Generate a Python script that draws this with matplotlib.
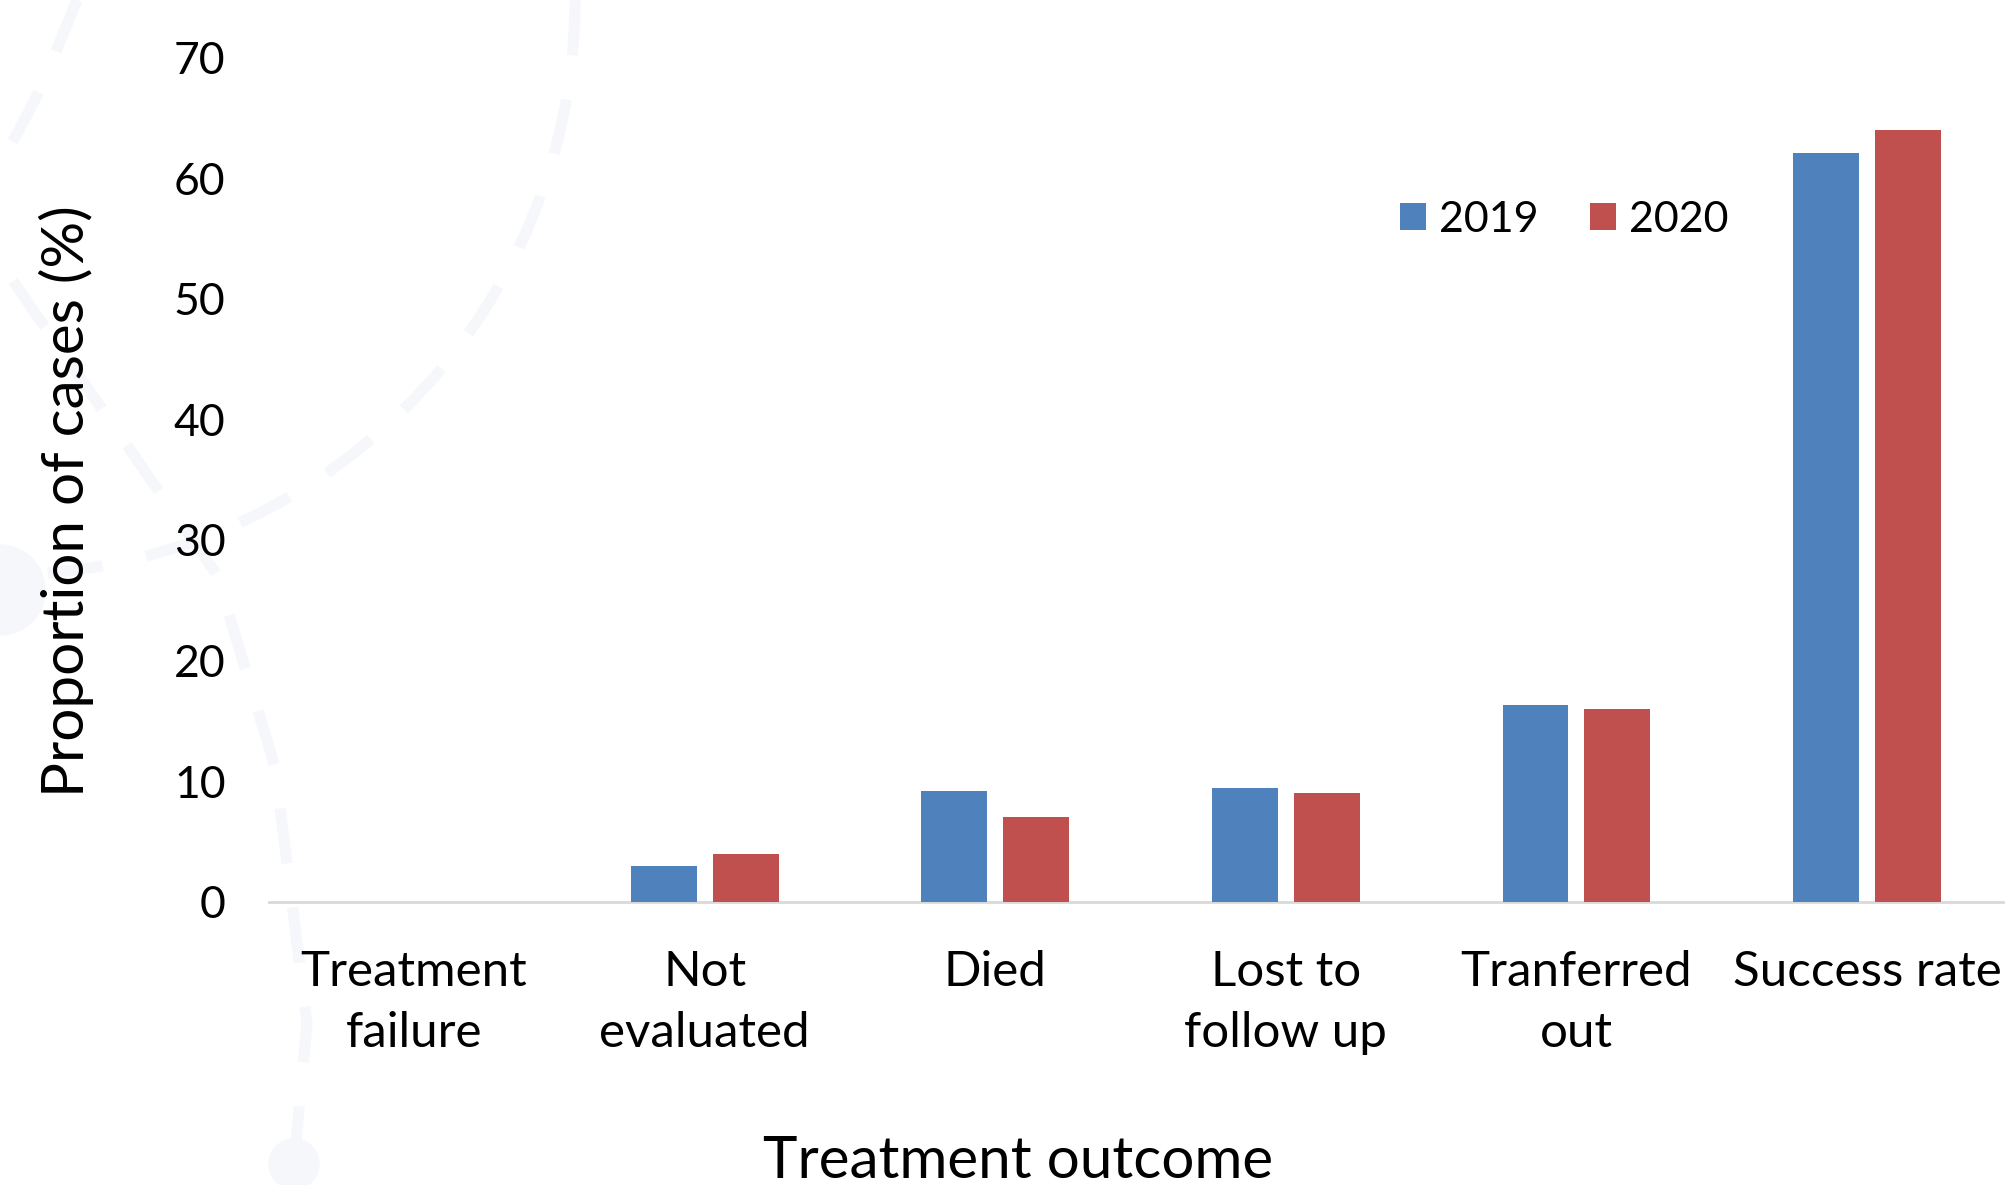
import numpy as np
import matplotlib
matplotlib.use("Agg")
import matplotlib.pyplot as plt
from matplotlib.patches import Arc, Circle
from matplotlib.lines import Line2D

plt.rcParams['font.family'] = ['Lato', 'DejaVu Sans']

# data
categories = ["Treatment\nfailure", "Not\nevaluated", "Died", "Lost to\nfollow up",
              "Tranferred\nout", "Success rate"]
vals_2019 = [0, 3.0, 9.2, 9.4, 16.3, 62.1]
vals_2020 = [0, 4.0, 7.0, 9.0, 16.0, 64.0]
years = ["2019", "2020"]
colors = ["#4f81bd", "#c0504d"]

fig = plt.figure(figsize=(20.05, 11.85), dpi=100)

# very faint decorative background (dashed arcs)
bg = fig.add_axes([0, 0, 1, 1], zorder=-1)
bg.set_xlim(0, 2005)
bg.set_ylim(1185, 0)
bg.axis('off')
deco = '#f5f7fa'
dash = (0, (5, 4))
bg.add_patch(Arc((0, 0), 1150, 1150, theta1=0, theta2=90,
                 color=deco, lw=8, ls=dash))
bg.add_line(Line2D([77, 40, 0], [0, 90, 166], color=deco, lw=8, ls=dash))
bg.add_line(Line2D([13, 217, 275, 307, 294], [281, 575, 767, 1023, 1164],
                   color=deco, lw=8, ls=dash))
bg.add_patch(Circle((0, 590), 45, color=deco))
bg.add_patch(Circle((294, 1164), 25, color=deco))

ax = fig.add_axes([0.134, 0.239, 0.8697, 0.7125])
x = np.arange(len(categories))
w = 0.227
off = 0.141
ax.bar(x - off, vals_2019, w, color=colors[0], label=years[0], zorder=3)
ax.bar(x + off, vals_2020, w, color=colors[1], label=years[1], zorder=3)

ax.set_xlim(-0.5, len(categories) - 0.5)
ax.set_ylim(0, 70)
ax.set_yticks(range(0, 71, 10))
ax.set_xticks(x)
ax.set_xticklabels(categories, fontsize=35.5, linespacing=1.45)
ax.tick_params(axis='y', labelsize=32, length=0, pad=31)
ax.tick_params(axis='x', length=0, pad=35)
for s in ['top', 'right', 'left']:
    ax.spines[s].set_visible(False)
ax.spines['bottom'].set_color('#d9d9d9')
ax.spines['bottom'].set_linewidth(2)
ax.patch.set_alpha(0)

fig.text(0.033, 0.577, "Proportion of cases (%)", fontsize=42, rotation=90,
         ha='center', va='center')
fig.text(0.508, 0.02, "Treatment outcome", fontsize=42, ha='center', va='center')

ax.legend(loc='center left', bbox_to_anchor=(0.649, 0.808), ncol=2, frameon=False,
          fontsize=31, handlelength=0.6, handleheight=0.6, handletextpad=0.3,
          columnspacing=1.2, borderpad=0, borderaxespad=0)

fig.savefig("out.png", dpi=100)
